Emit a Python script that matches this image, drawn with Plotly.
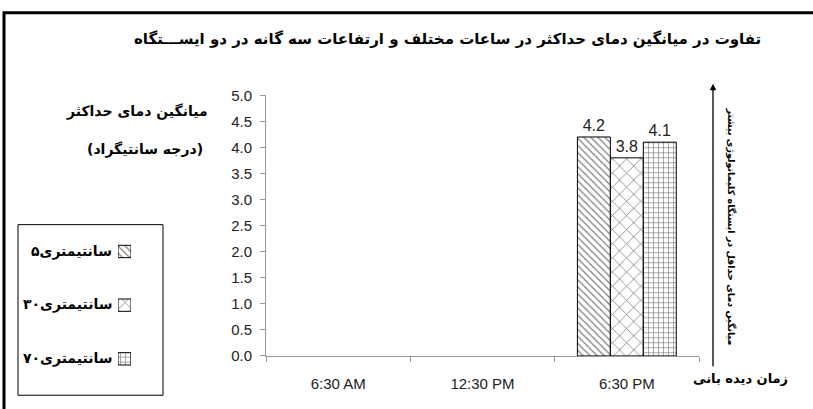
import plotly.graph_objects as go

# Observation times and mean maximum-temperature differences (°C) per sensor height
times = ["6:30 AM", "12:30 PM", "6:30 PM"]
series_names = ["۵سانتیمتری", "۳۰سانتیمتری", "۷۰سانتیمتری"]
h5_values = [None, None, 4.2]
h30_values = [None, None, 3.8]
h70_values = [None, None, 4.1]
y_ticks = [0.0, 0.5, 1.0, 1.5, 2.0, 2.5, 3.0, 3.5, 4.0, 4.5, 5.0]

W, H = 813, 409
LRM = "\u200e"
patterns = [
    dict(shape="\\", size=5, solidity=0.25),
    dict(shape="x", size=10, solidity=0.15),
    dict(shape="+", size=5, solidity=0.25),
]

def px(x):
    return x / W

def py(y):
    return (H - y) / H

fig = go.Figure()

for name, vals, pat in zip(series_names, [h5_values, h30_values, h70_values], patterns):
    fig.add_trace(go.Bar(
        x=times, y=vals, name=name,
        marker=dict(color="white", line=dict(color="black", width=1),
                    pattern=dict(fgcolor="black", bgcolor="white", **pat)),
        texttemplate="%{y:.1f}", textposition="outside", cliponaxis=False,
        textfont=dict(family="Liberation Sans, Arial", size=16, color="#222"),
        showlegend=False,
    ))

# Legend swatches drawn as small bars on a hidden helper axis
for name, pat in zip(series_names, patterns):
    fig.add_trace(go.Bar(
        y=[name], x=[1], orientation="h", xaxis="x2", yaxis="y2",
        width=0.23, offset=-0.115,
        marker=dict(color="white", line=dict(color="black", width=1),
                    pattern=dict(fgcolor="black", bgcolor="white", **pat)),
        showlegend=False, hoverinfo="skip",
    ))

fig.update_layout(
    width=W, height=H,
    margin=dict(l=0, r=0, t=0, b=0),
    paper_bgcolor="white", plot_bgcolor="white",
    barmode="group", bargap=0.315, bargroupgap=0,
    xaxis=dict(domain=[px(266), px(699)], showgrid=False, showline=True,
               linecolor="#999", linewidth=1, ticks="outside", ticklen=5,
               tickcolor="#999", tickson="boundaries",
               tickfont=dict(family="Liberation Sans, Arial", size=15, color="#222"),
               ticklabelstandoff=14),
    yaxis=dict(domain=[py(362), py(90)], range=[0, 5], showgrid=False,
               showline=True, linecolor="#999", linewidth=1, ticks="outside",
               ticklen=5, tickcolor="#999", tickvals=y_ticks, tickformat=".1f",
               tickfont=dict(family="Liberation Sans, Arial", size=15, color="#222"),
               ticklabelstandoff=5, zeroline=False),
    xaxis2=dict(domain=[px(118), px(131)], range=[0, 1], visible=False,
                fixedrange=True),
    yaxis2=dict(domain=[py(393), py(225)], type="category",
                categoryarray=series_names, autorange="reversed",
                visible=False, fixedrange=True),
)

fa_font = "DejaVu Sans"

def label(text, x, y, size, bold=True, xanchor="center", angle=0):
    return dict(text=text, x=px(x), y=py(y), xref="paper", yref="paper",
                xanchor=xanchor, yanchor="middle", showarrow=False,
                textangle=angle,
                font=dict(family=fa_font, size=size, color="black",
                          weight="bold" if bold else "normal"))

ann = [
    label("تفاوت در میانگین دمای حداکثر در ساعات مختلف و ارتفاعات سه گانه در دو ایســـتگاه",
          447, 31, 15),
    label("میانگین دمای حداکثر", 210, 107, 14, xanchor="right"),
    label("(درجه سانتیگراد)", 205, 147, 14, xanchor="right"),
    label("زمان دیده بانی", 790, 386, 13, xanchor="right"),
    label("میانگین دمای حداقل در ایستگاه کلیماتولوژی بیشتر", 731, 227, 9.5,
          bold=True, angle=90),
    dict(text="", x=px(713), y=py(78), xref="paper", yref="paper",
         showarrow=True, ax=0, ay=284, arrowhead=2, arrowsize=1,
         arrowwidth=1.3, arrowcolor="black"),
]
for name, yy in zip(series_names, [253, 308, 365]):
    # keep the height number on the left of the word
    num = name[:name.index("س")]
    word = name[len(num):]
    ann.append(label(LRM + num + LRM + word, 114, yy, 14, xanchor="right"))
fig.update_layout(annotations=ann)

fig.update_layout(shapes=[
    # outer frame (top and left edges visible)
    dict(type="rect", xref="paper", yref="paper", x0=px(4), x1=px(830),
         y0=py(430), y1=py(4), line=dict(color="black", width=3)),
    # legend box
    dict(type="rect", xref="paper", yref="paper", x0=px(18), x1=px(163),
         y0=py(403), y1=py(225), line=dict(color="black", width=1)),
])

fig.write_html("out.html")
